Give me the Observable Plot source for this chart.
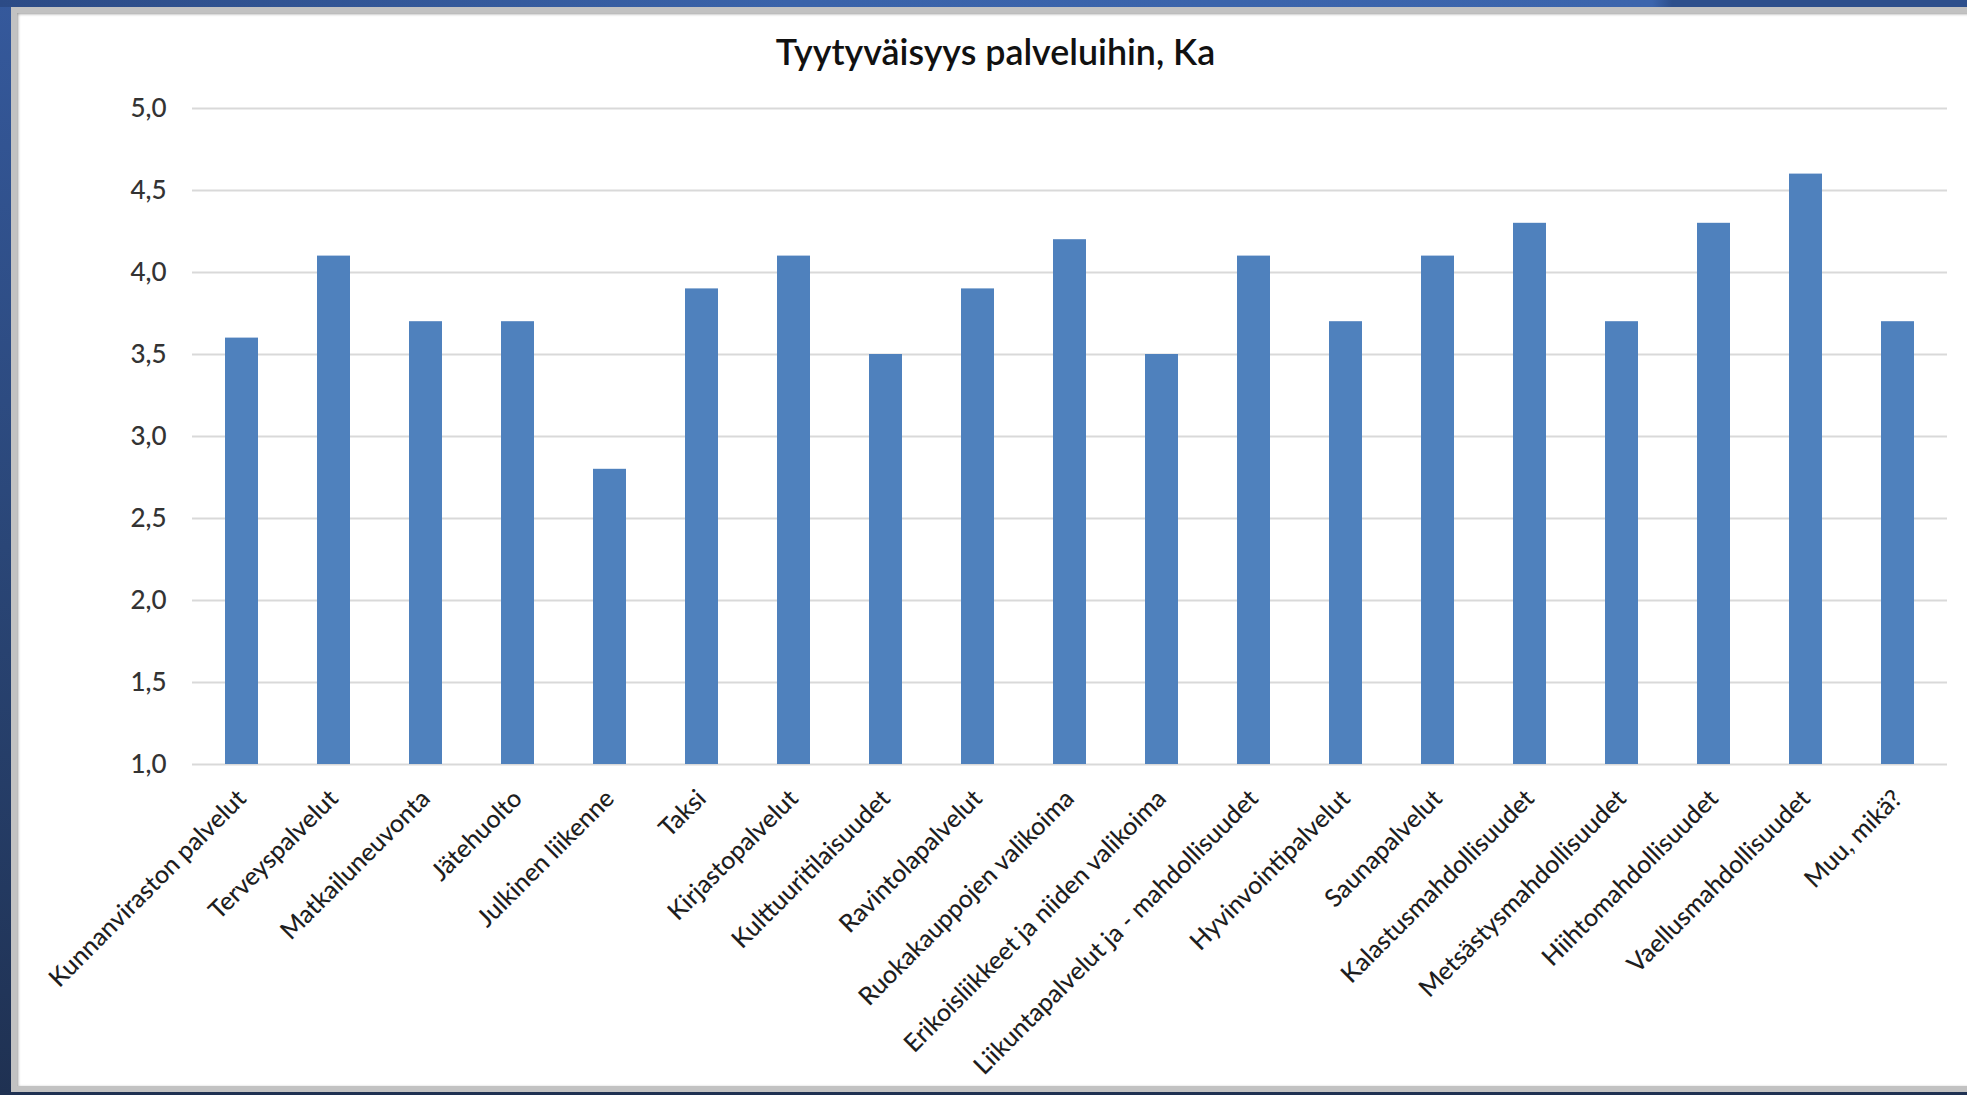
<!DOCTYPE html>
<html><head><meta charset="utf-8">
<script src="https://cdn.jsdelivr.net/npm/d3@7"></script>
<script src="https://cdn.jsdelivr.net/npm/@observablehq/plot@0.6"></script>
<style>
html,body{margin:0;padding:0;width:1967px;height:1095px;overflow:hidden;}
body{background:linear-gradient(180deg,#35599c 0%,#2a4677 50%,#1f3152 100%);position:relative;font-family:Lato,sans-serif;}
#topband{position:absolute;left:0;top:0;width:1967px;height:7px;background:linear-gradient(90deg,#2c4b86 0%,#3a63aa 40%,#3c65ad 84%,#2d4f8c 85%,#2d4f8c 100%);}
#panel{position:absolute;left:11px;top:7px;width:1975px;height:1085px;background:#fff;border:6px solid #c2c2c2;box-sizing:border-box;box-shadow:inset 1px 1px 3px #9a9a9a;}
#title{position:absolute;left:12px;width:1967px;top:34px;line-height:35px;text-align:center;font-size:35.8px;font-weight:600;color:#111;}
#chart{position:absolute;left:0;top:0;}
</style></head><body>
<div id="topband"></div>
<div id="panel"></div>
<div id="title">Tyytyväisyys palveluihin, Ka</div>
<div id="chart"></div>
<script>
const categories = [
  "Kunnanviraston palvelut",
  "Terveyspalvelut",
  "Matkailuneuvonta",
  "Jätehuolto",
  "Julkinen liikenne",
  "Taksi",
  "Kirjastopalvelut",
  "Kulttuuritilaisuudet",
  "Ravintolapalvelut",
  "Ruokakauppojen valikoima",
  "Erikoisliikkeet ja niiden valikoima",
  "Liikuntapalvelut ja - mahdollisuudet",
  "Hyvinvointipalvelut",
  "Saunapalvelut",
  "Kalastusmahdollisuudet",
  "Metsästysmahdollisuudet",
  "Hiihtomahdollisuudet",
  "Vaellusmahdollisuudet",
  "Muu, mikä?"
];
const values = [3.6, 4.1, 3.7, 3.7, 2.8, 3.9, 4.1, 3.5, 3.9, 4.2, 3.5, 4.1, 3.7, 4.1, 4.3, 3.7, 4.3, 4.6, 3.7];
const yTicks = [1.0, 1.5, 2.0, 2.5, 3.0, 3.5, 4.0, 4.5, 5.0];
const baseline = 1.0;

const data = categories.map((c, i) => ({category: c, value: values[i]}));

const chart = Plot.plot({
  width: 1967,
  height: 1095,
  marginLeft: 192,
  marginRight: 20,
  marginTop: 108,
  marginBottom: 331,
  style: {background: "none", fontFamily: "Lato, sans-serif", overflow: "visible"},
  x: {type: "band", domain: categories, paddingInner: 0.646, paddingOuter: 0.338, label: null},
  y: {domain: [1, 5], label: null},
  marks: [
    Plot.gridY(yTicks, {stroke: "#d9d9d9", strokeOpacity: 1, strokeWidth: 2}),
    Plot.barY(data, {x: "category", y1: baseline, y2: "value", fill: "#4f81bd"}),
    Plot.axisY(yTicks, {tickSize: 0, tickPadding: 26, tickFormat: d => d.toFixed(1).replace(".", ","), fontSize: 26, fontWeight: 500, fill: "#333"}),
    Plot.axisX({tickSize: 0, tickRotate: -45, tickPadding: 30, fontSize: 25, fontWeight: 500, fill: "#1e1e1e"})
  ]
});
document.getElementById("chart").appendChild(chart);
</script>
</body></html>
